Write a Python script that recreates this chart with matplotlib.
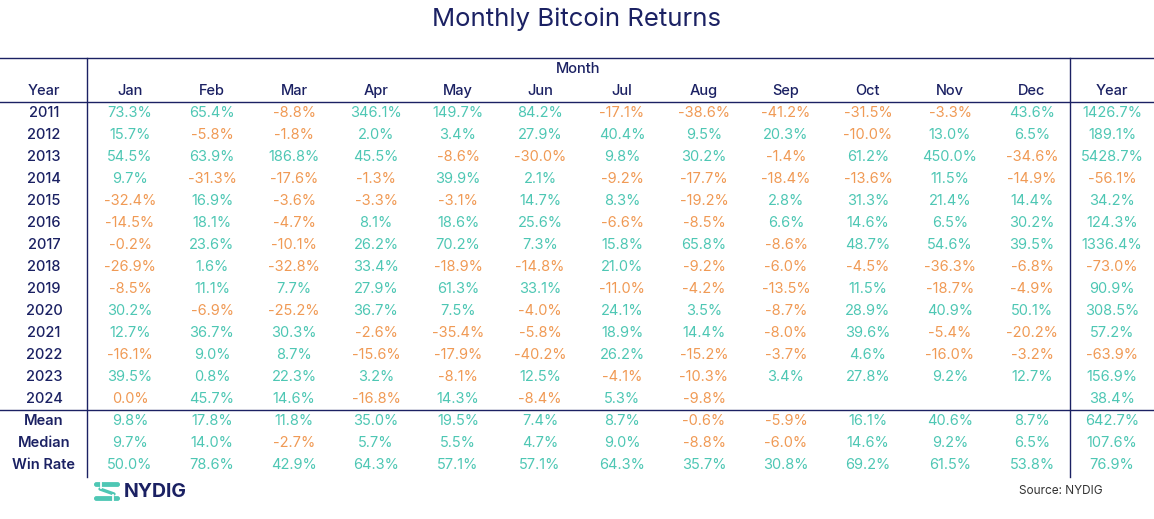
import matplotlib
matplotlib.use("Agg")
import matplotlib.pyplot as plt
from matplotlib.patches import FancyBboxPatch

title = "Monthly Bitcoin Returns"
months = ["Jan", "Feb", "Mar", "Apr", "May", "Jun", "Jul", "Aug", "Sep", "Oct", "Nov", "Dec"]
years = [2011, 2012, 2013, 2014, 2015, 2016, 2017, 2018, 2019, 2020, 2021, 2022, 2023, 2024]

r2011 = [73.3, 65.4, -8.8, 346.1, 149.7, 84.2, -17.1, -38.6, -41.2, -31.5, -3.3, 43.6]
r2012 = [15.7, -5.8, -1.8, 2.0, 3.4, 27.9, 40.4, 9.5, 20.3, -10.0, 13.0, 6.5]
r2013 = [54.5, 63.9, 186.8, 45.5, -8.6, -30.0, 9.8, 30.2, -1.4, 61.2, 450.0, -34.6]
r2014 = [9.7, -31.3, -17.6, -1.3, 39.9, 2.1, -9.2, -17.7, -18.4, -13.6, 11.5, -14.9]
r2015 = [-32.4, 16.9, -3.6, -3.3, -3.1, 14.7, 8.3, -19.2, 2.8, 31.3, 21.4, 14.4]
r2016 = [-14.5, 18.1, -4.7, 8.1, 18.6, 25.6, -6.6, -8.5, 6.6, 14.6, 6.5, 30.2]
r2017 = [-0.2, 23.6, -10.1, 26.2, 70.2, 7.3, 15.8, 65.8, -8.6, 48.7, 54.6, 39.5]
r2018 = [-26.9, 1.6, -32.8, 33.4, -18.9, -14.8, 21.0, -9.2, -6.0, -4.5, -36.3, -6.8]
r2019 = [-8.5, 11.1, 7.7, 27.9, 61.3, 33.1, -11.0, -4.2, -13.5, 11.5, -18.7, -4.9]
r2020 = [30.2, -6.9, -25.2, 36.7, 7.5, -4.0, 24.1, 3.5, -8.7, 28.9, 40.9, 50.1]
r2021 = [12.7, 36.7, 30.3, -2.6, -35.4, -5.8, 18.9, 14.4, -8.0, 39.6, -5.4, -20.2]
r2022 = [-16.1, 9.0, 8.7, -15.6, -17.9, -40.2, 26.2, -15.2, -3.7, 4.6, -16.0, -3.2]
r2023 = [39.5, 0.8, 22.3, 3.2, -8.1, 12.5, -4.1, -10.3, 3.4, 27.8, 9.2, 12.7]
r2024 = [0.0, 45.7, 14.6, -16.8, 14.3, -8.4, 5.3, -9.8, None, None, None, None]
monthly = [r2011, r2012, r2013, r2014, r2015, r2016, r2017, r2018, r2019, r2020,
           r2021, r2022, r2023, r2024]
yearly = [1426.7, 189.1, 5428.7, -56.1, 34.2, 124.3, 1336.4, -73.0, 90.9, 308.5,
          57.2, -63.9, 156.9, 38.4]

stat_labels = ["Mean", "Median", "Win Rate"]
mean_vals = [9.8, 17.8, 11.8, 35.0, 19.5, 7.4, 8.7, -0.6, -5.9, 16.1, 40.6, 8.7]
median_vals = [9.7, 14.0, -2.7, 5.7, 5.5, 4.7, 9.0, -8.8, -6.0, 14.6, 9.2, 6.5]
winrate_vals = [50.0, 78.6, 42.9, 64.3, 57.1, 57.1, 64.3, 35.7, 30.8, 69.2, 61.5, 53.8]
stats_monthly = [mean_vals, median_vals, winrate_vals]
stats_year = [642.7, 107.6, 76.9]
source = "Source: NYDIG"

NAVY = "#1b2163"
TEAL = "#4ec7b4"
ORANGE = "#f09a55"
FONT = "Inter"

W, H = 1154, 519
fig = plt.figure(figsize=(W / 100, H / 100), dpi=100)
ax = fig.add_axes([0, 0, 1, 1])
ax.set_xlim(0, W)
ax.set_ylim(H, 0)
ax.axis("off")

year_x = 44
col_x = [130 + i * 82 for i in range(12)]
yearcol_x = 1112
row0_y = 113
row_h = 22
fs = 10.5

def col(v):
    return TEAL if v > 0 else ORANGE

ax.text(W / 2, 19, title, ha="center", va="center", fontsize=18.5,
        color=NAVY, family=FONT)

# lines
lw = 1.0
ax.plot([0, W], [58, 58], color=NAVY, lw=lw)
ax.plot([0, W], [102, 102], color=NAVY, lw=lw)
ax.plot([0, W], [410, 410], color=NAVY, lw=lw)
ax.plot([87, 87], [58, 477], color=NAVY, lw=lw)
ax.plot([1070, 1070], [58, 477], color=NAVY, lw=lw)

ax.text(578, 69, "Month", ha="center", va="center", fontsize=fs, color=NAVY,
        family=FONT, fontweight="medium")
ax.text(year_x, 91, "Year", ha="center", va="center", fontsize=fs,
        color=NAVY, family=FONT, fontweight="medium")
for x, m in zip(col_x, months):
    ax.text(x, 91, m, ha="center", va="center", fontsize=fs, color=NAVY,
            family=FONT, fontweight="medium")
ax.text(yearcol_x, 91, "Year", ha="center", va="center", fontsize=fs,
        color=NAVY, family=FONT, fontweight="medium")

for i, (yr, vals) in enumerate(zip(years, monthly)):
    y = row0_y + i * row_h
    ax.text(year_x, y, str(yr), ha="center", va="center", fontsize=fs,
            color=NAVY, family=FONT, fontweight="medium")
    for x, v in zip(col_x, vals):
        if v is None:
            continue
        ax.text(x, y, f"{v:.1f}%", ha="center", va="center", fontsize=fs,
                color=col(v), family=FONT)
    yv = yearly[i]
    ax.text(yearcol_x, y, f"{yv:.1f}%", ha="center", va="center", fontsize=fs,
            color=col(yv), family=FONT)

stat_y0 = 421
for j, (lab, vals) in enumerate(zip(stat_labels, stats_monthly)):
    y = stat_y0 + j * row_h
    ax.text(year_x, y, lab, ha="center", va="center", fontsize=fs,
            color=NAVY, family=FONT, fontweight="semibold")
    for x, v in zip(col_x, vals):
        ax.text(x, y, f"{v:.1f}%", ha="center", va="center", fontsize=fs,
                color=col(v), family=FONT)
    ax.text(yearcol_x, y, f"{stats_year[j]:.1f}%", ha="center", va="center",
            fontsize=fs, color=col(stats_year[j]), family=FONT)

# NYDIG logo
for yy in (484.5, 498.5):
    ax.add_patch(FancyBboxPatch((94, yy - 2.4), 26, 4.8,
                                boxstyle="round,pad=0,rounding_size=2.4",
                                fc=TEAL, ec="none"))
ax.plot([100, 114], [489, 494], color=TEAL, lw=2.4, solid_capstyle="round")
ax.plot([101, 101], [481, 488], color="white", lw=1.3)
ax.plot([113, 113], [495, 502], color="white", lw=1.3)
ax.text(124, 492, "NYDIG", ha="left", va="center", fontsize=14,
        color=NAVY, family=FONT, fontweight="bold")

ax.text(1019, 491, source, ha="left", va="center", fontsize=8.5,
        color="#333333", family=FONT)

fig.savefig("out.png", dpi=100)
